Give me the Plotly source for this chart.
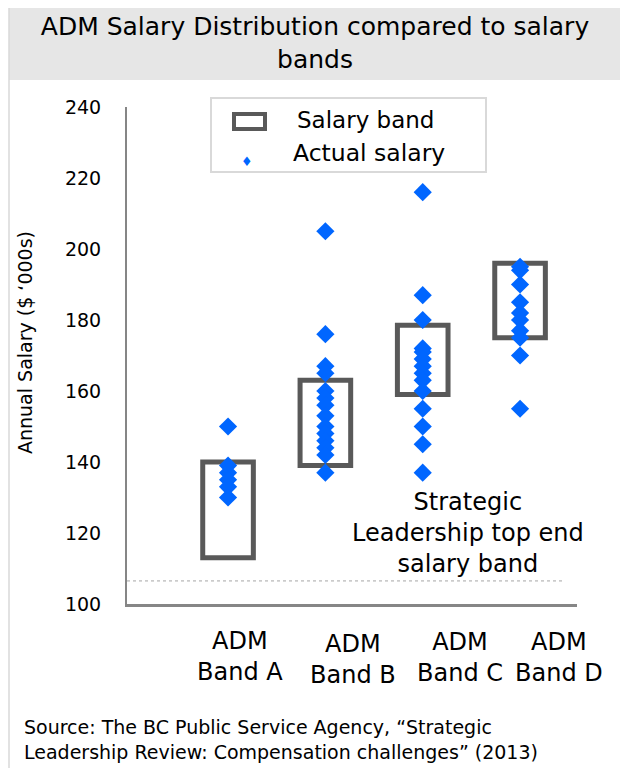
import plotly.graph_objects as go

# ---------------- data ----------------
categories = ["ADM Band A", "ADM Band B", "ADM Band C", "ADM Band D"]
category_labels = ["ADM<br>Band A", "ADM<br>Band B", "ADM<br>Band C", "ADM<br>Band D"]
band_low = [113, 139, 159, 175]
band_high = [140, 163, 178.5, 196]
salaries_a = [150, 139, 137, 135, 133, 130]
salaries_b = [205, 176, 167, 165, 160, 158, 156, 153, 150, 148, 146, 144, 142, 137]
salaries_c = [216, 187, 180, 172, 171, 169, 167, 165, 163, 160, 155, 150, 145, 137]
salaries_d = [195, 194, 190, 185, 182, 180, 177, 175, 170, 155]
top_end_salary = 106.5
y_ticks = [100, 120, 140, 160, 180, 200, 220, 240]

# ---------------- layout geometry ----------------
# the page body adds an 8px margin, so the figure is drawn smaller to avoid scrollbars
PAGE_OFF = 8
W, H = 628 - PAGE_OFF, 784 - 3 * PAGE_OFF
L_REF, T_REF = 127, 107          # plot-area corner in page pixels
PW, PH = 450, 497                 # plot-area size
L, T = L_REF - PAGE_OFF, T_REF - PAGE_OFF
R, B = W - L - PW, H - T - PH
FONT = "DejaVu Sans"
BLUE = "#0066FF"
BOX = "#595959"


def px(x):
    return (x - L_REF) / PW


def py(y):
    return (T_REF + PH - y) / PH


fig = go.Figure()

# salary bands as hollow floating bars
fig.add_trace(go.Bar(
    x=categories,
    y=[h - l for h, l in zip(band_high, band_low)],
    base=band_low,
    width=0.52,
    marker=dict(color="rgba(0,0,0,0)", line=dict(color=BOX, width=5)),
    name="Salary band",
    showlegend=False,
    hoverinfo="skip",
))

for cat, vals in zip(categories, [salaries_a, salaries_b, salaries_c, salaries_d]):
    fig.add_trace(go.Scatter(
        x=[cat] * len(vals),
        y=vals,
        mode="markers",
        marker=dict(symbol="diamond", size=14, color=BLUE, line=dict(width=0)),
        name="Actual salary",
        showlegend=False,
    ))

shapes = [
    # title band
    dict(type="rect", xref="paper", yref="paper", x0=px(9), x1=px(650), y0=py(80), y1=py(-10),
         fillcolor="#E6E6E6", line=dict(width=0), layer="below"),
    # left frame line
    dict(type="line", xref="paper", yref="paper", x0=px(9), x1=px(9), y0=py(0), y1=py(800),
         line=dict(color="#D9D9D9", width=1.5)),
    # top-end salary reference line
    dict(type="line", xref="paper", yref="y", x0=0, x1=px(562), y0=top_end_salary, y1=top_end_salary,
         line=dict(color="#A6A6A6", width=1, dash="dot")),
    # legend frame
    dict(type="rect", xref="paper", yref="paper", x0=px(211), x1=px(486), y0=py(172), y1=py(98),
         fillcolor="white", line=dict(color="#D9D9D9", width=2)),
    # legend symbol for salary band
    dict(type="rect", xref="paper", yref="paper", x0=px(234), x1=px(265), y0=py(129), y1=py(114),
         line=dict(color=BOX, width=4)),
]

annotations = [
    dict(text="Salary band", xref="paper", yref="paper", x=px(295), y=py(120), xanchor="left",
         yanchor="middle", showarrow=False, font=dict(family=FONT, size=23, color="black")),
    dict(text="Actual salary", xref="paper", yref="paper", x=px(291), y=py(153), xanchor="left",
         yanchor="middle", showarrow=False, font=dict(family=FONT, size=23.5, color="black")),
    dict(text="\u2666", xref="paper", yref="paper", x=px(247), y=py(161), xanchor="center",
         yanchor="middle", showarrow=False, font=dict(family="DejaVu Sans", size=13, color=BLUE)),
    dict(text="Annual Salary ($ \u2018000s)", xref="paper", yref="paper", x=px(25), y=py(343),
         textangle=-90, xanchor="center", yanchor="middle", showarrow=False,
         font=dict(family=FONT, size=19, color="black")),
    dict(text="Strategic<br>Leadership top end<br>salary band", xref="paper", yref="paper",
         x=px(468), y=py(533), xanchor="center", yanchor="middle", showarrow=False,
         font=dict(family=FONT, size=24, color="black")),
    dict(text="Source: The BC Public Service Agency, \u201cStrategic<br>"
              "Leadership Review: Compensation challenges\u201d (2013)",
         xref="paper", yref="paper", x=px(22), y=py(739), xanchor="left", yanchor="middle",
         align="left", showarrow=False, font=dict(family=FONT, size=19, color="black")),
]

label_pos = [(240, 656), (353, 659), (460, 657), (559, 657)]
for lab, (lx, ly) in zip(category_labels, label_pos):
    annotations.append(dict(text=lab, xref="paper", yref="paper", x=px(lx), y=py(ly),
                            xanchor="center", yanchor="middle", showarrow=False,
                            font=dict(family=FONT, size=24, color="black")))

fig.update_layout(
    width=W, height=H,
    margin=dict(l=L, r=R, t=T, b=B, pad=0),
    paper_bgcolor="white", plot_bgcolor="white",
    title=dict(text="ADM Salary Distribution compared to salary<br>bands",
               x=(315 - PAGE_OFF) / W, xref="container", xanchor="center",
               y=1 - (35 - PAGE_OFF) / H, yref="container", yanchor="middle",
               font=dict(family=FONT, size=25, color="black")),
    font=dict(family=FONT, color="black"),
    shapes=shapes,
    annotations=annotations,
    showlegend=False,
)

fig.update_xaxes(type="category", categoryorder="array", categoryarray=categories,
                 range=[-1.038, 3.585], showticklabels=False, ticks="",
                 showline=True, linecolor="#868686", linewidth=3, showgrid=False, zeroline=False)
fig.update_yaxes(range=[100, 240], tickvals=y_ticks, ticktext=[str(v) for v in y_ticks],
                 showline=True, linecolor="#868686", linewidth=2, showgrid=False, zeroline=False,
                 ticks="outside", ticklen=20, tickcolor="rgba(0,0,0,0)",
                 tickfont=dict(family=FONT, size=19, color="black"))

fig.write_html("out.html")
